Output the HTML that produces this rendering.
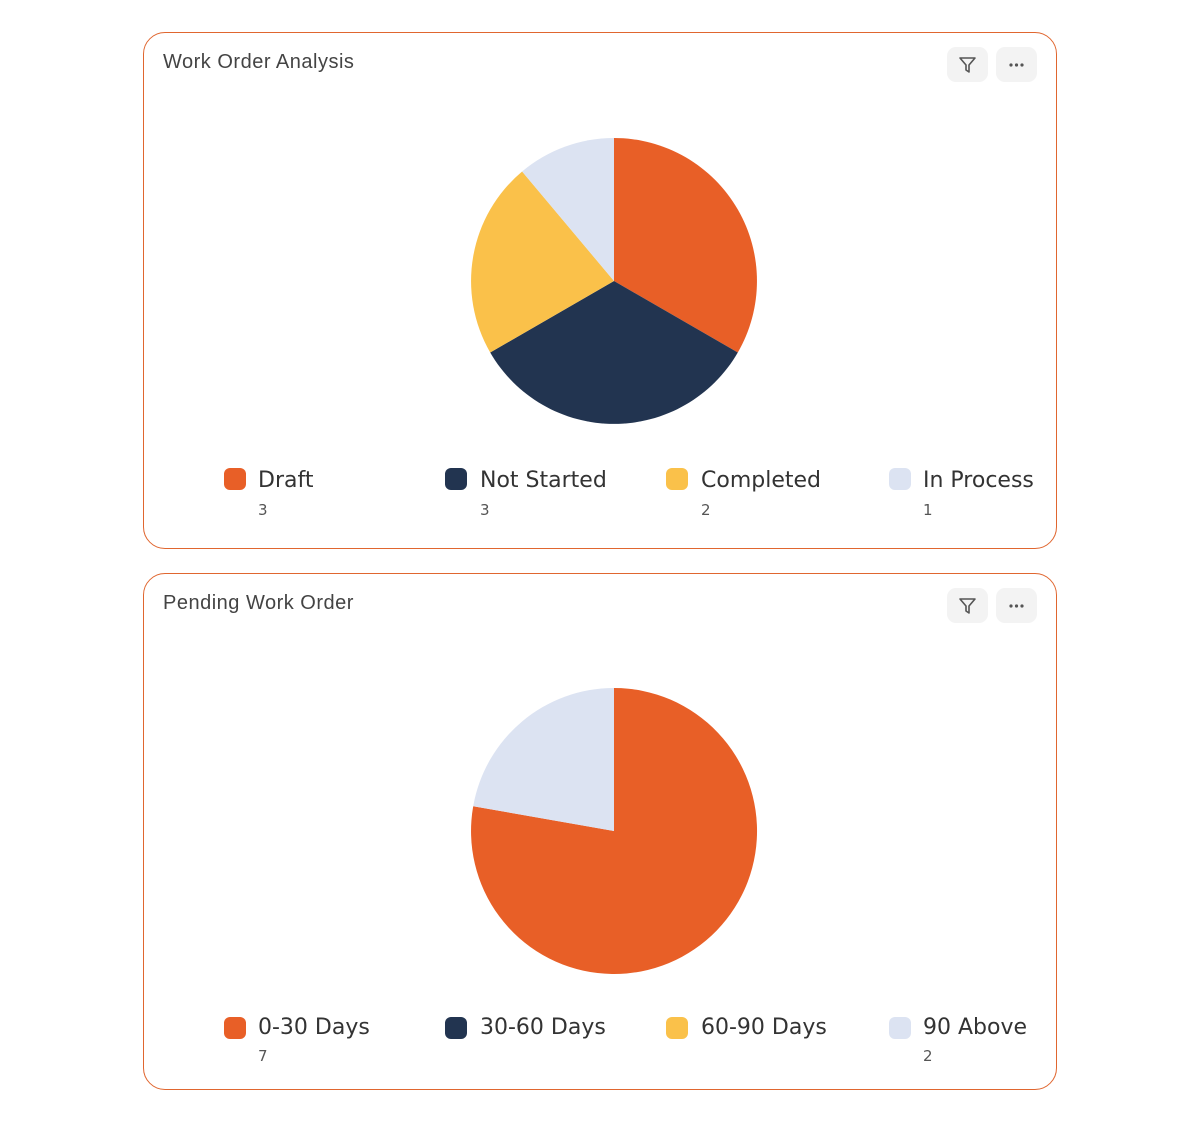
<!DOCTYPE html>
<html><head><style>
body{margin:0;width:1200px;height:1122px;background:#fff;font-family:"Liberation Sans",sans-serif;position:relative;overflow:hidden}
.card{position:absolute;left:143px;width:914px;height:517px;border:1.5px solid #e0662f;border-radius:22px;box-sizing:border-box}
.title{position:absolute;left:19px;top:18px;font-size:20px;letter-spacing:0.5px;color:#444}
.btn{position:absolute;top:14px;width:41px;height:35px;background:#f3f3f3;border-radius:9px}
.sw{position:absolute;width:22px;height:22px;border-radius:6px}
.lt{position:absolute;font-family:"DejaVu Sans",sans-serif;font-size:22px;color:#333}
.lv{position:absolute;font-family:"DejaVu Sans",sans-serif;font-size:15px;color:#555}
</style></head><body>
<div class="card" style="top:32px">
<div class="title">Work Order Analysis</div>
<div class="btn" style="left:803px"><svg width="41" height="35"><path d="M13 11 H28 L22 18 V25 L19 23 V18 Z" fill="none" stroke="#555" stroke-width="1.6" stroke-linejoin="round"/></svg></div>
<div class="btn" style="left:852px"><svg width="41" height="35"><circle cx="15" cy="18" r="1.6" fill="#555"/><circle cx="20.5" cy="18" r="1.6" fill="#555"/><circle cx="26" cy="18" r="1.6" fill="#555"/></svg></div>
</div>
<div class="card" style="top:573px">
<div class="title">Pending Work Order</div>
<div class="btn" style="left:803px"><svg width="41" height="35"><path d="M13 11 H28 L22 18 V25 L19 23 V18 Z" fill="none" stroke="#555" stroke-width="1.6" stroke-linejoin="round"/></svg></div>
<div class="btn" style="left:852px"><svg width="41" height="35"><circle cx="15" cy="18" r="1.6" fill="#555"/><circle cx="20.5" cy="18" r="1.6" fill="#555"/><circle cx="26" cy="18" r="1.6" fill="#555"/></svg></div>
</div>
<svg style="position:absolute;left:0;top:0" width="1200" height="1122">
<path d="M614 281 L614 138 A143 143 0 0 1 737.8 352.5 Z" fill="#e85f27"/>
<path d="M614 281 L737.8 352.5 A143 143 0 0 1 490.2 352.5 Z" fill="#223450"/>
<path d="M614 281 L490.2 352.5 A143 143 0 0 1 522.1 171.5 Z" fill="#fac14a"/>
<path d="M614 281 L522.1 171.5 A143 143 0 0 1 614 138 Z" fill="#dce3f2"/>
<path d="M614 831 L614 688 A143 143 0 1 1 473.2 806.2 Z" fill="#e85f27"/>
<path d="M614 831 L473.2 806.2 A143 143 0 0 1 614 688 Z" fill="#dce3f2"/>
</svg>
<div class="sw" style="left:224px;top:468px;background:#e85f27"></div><div class="lt" style="left:258px;top:468px">Draft</div><div class="lv" style="left:258px;top:501px">3</div>
<div class="sw" style="left:445px;top:468px;background:#223450"></div><div class="lt" style="left:480px;top:468px">Not Started</div><div class="lv" style="left:480px;top:501px">3</div>
<div class="sw" style="left:666px;top:468px;background:#fac14a"></div><div class="lt" style="left:701px;top:468px">Completed</div><div class="lv" style="left:701px;top:501px">2</div>
<div class="sw" style="left:889px;top:468px;background:#dce3f2"></div><div class="lt" style="left:923px;top:468px">In Process</div><div class="lv" style="left:923px;top:501px">1</div>
<div class="sw" style="left:224px;top:1017px;background:#e85f27"></div><div class="lt" style="left:258px;top:1015px">0-30 Days</div><div class="lv" style="left:258px;top:1047px">7</div>
<div class="sw" style="left:445px;top:1017px;background:#223450"></div><div class="lt" style="left:480px;top:1015px">30-60 Days</div>
<div class="sw" style="left:666px;top:1017px;background:#fac14a"></div><div class="lt" style="left:701px;top:1015px">60-90 Days</div>
<div class="sw" style="left:889px;top:1017px;background:#dce3f2"></div><div class="lt" style="left:923px;top:1015px">90 Above</div><div class="lv" style="left:923px;top:1047px">2</div>
</body></html>
